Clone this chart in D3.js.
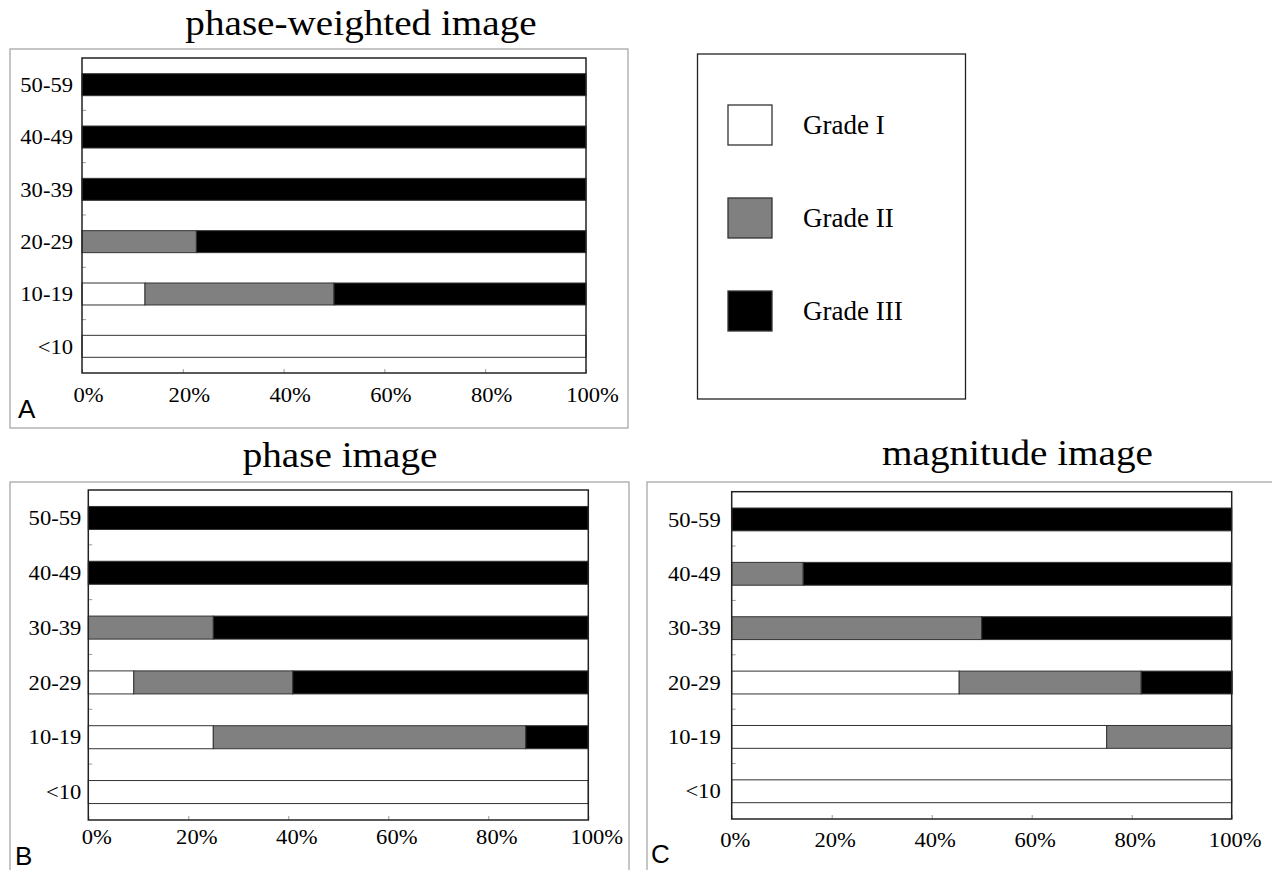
<!DOCTYPE html>
<html>
<head>
<meta charset="utf-8">
<script src="https://cdn.jsdelivr.net/npm/d3@7"></script>
<style>
	body { margin: 0; background: #fff; }
	text { font-family: 'Liberation Serif', 'Times New Roman', serif; fill: #000; }
</style>
</head>
<body>
<div id="fig"></div>
<script>
const ageGroups = ['50-59', '40-49', '30-39', '20-29', '10-19', '<10'];
const grades = ['Grade I', 'Grade II', 'Grade III'];
const gradeColors = ['#ffffff', '#808080', '#000000'];
const pctTicks = [0, 20, 40, 60, 80, 100];

// share (%) of each grade per age group
const pwGradeI = [0, 0, 0, 0, 12.5, 100];
const pwGradeII = [0, 0, 0, 22.7, 37.5, 0];
const pwGradeIII = [100, 100, 100, 77.3, 50, 0];

const phGradeI = [0, 0, 0, 9.1, 25, 100];
const phGradeII = [0, 0, 25, 31.8, 62.5, 0];
const phGradeIII = [100, 100, 75, 59.1, 12.5, 0];

const mgGradeI = [0, 0, 0, 45.5, 75, 100];
const mgGradeII = [0, 14.3, 50, 36.4, 25, 0];
const mgGradeIII = [100, 85.7, 50, 18.2, 0, 0];

// the source figure is stretched a bit horizontally
const sx = 1.13;

let panels = [
	{ title: 'phase-weighted image', letter: 'A', series: [pwGradeI, pwGradeII, pwGradeIII],
		plot: { l: 82, r: 586, t: 58, b: 373 }, frame: { x: 10, y: 49, w: 618, h: 379 },
		titlePos: [361, 35], letterPos: [18, 418], xlabOff: 29, xlabDx: 6, ylabGap: 9 },
	{ title: 'phase image', letter: 'B', series: [phGradeI, phGradeII, phGradeIII],
		plot: { l: 88.3, r: 588.3, t: 490, b: 820 }, frame: { x: 10, y: 482, w: 619, h: 420 },
		titlePos: [340, 467], letterPos: [15, 865], xlabOff: 24, xlabDx: 8, ylabGap: 7 },
	{ title: 'magnitude image', letter: 'C', series: [mgGradeI, mgGradeII, mgGradeIII],
		plot: { l: 731.7, r: 1231.7, t: 491.7, b: 819 }, frame: { x: 647, y: 482, w: 660, h: 420 },
		titlePos: [1017.5, 465], letterPos: [651, 863], xlabOff: 28, xlabDx: 3, ylabGap: 11 }
];

const svg = d3.select('#fig').append('svg').attr('width', 1272).attr('height', 870);

function drawPanel(p){
	let g = svg.append('g');

	g.append('rect')
		.attr('x', p.frame.x).attr('y', p.frame.y)
		.attr('width', p.frame.w).attr('height', p.frame.h)
		.attr('fill', 'none').attr('stroke', '#a0a0a0').attr('stroke-width', 1.2);

	g.append('text')
		.attr('transform', 'translate(' + p.titlePos[0] + ',' + p.titlePos[1] + ') scale(1.12,1)')
		.attr('text-anchor', 'middle')
		.style('font-size', '35px')
		.text(p.title);

	g.append('text')
		.attr('x', p.letterPos[0]).attr('y', p.letterPos[1])
		.style('font-family', "'Liberation Sans', Arial, sans-serif")
		.style('font-size', '26px')
		.text(p.letter);

	let x = d3.scaleLinear().domain([0, 100]).range([p.plot.l, p.plot.r]);
	let y = d3.scaleBand().domain(ageGroups).range([p.plot.t, p.plot.b]).paddingInner(0.58).paddingOuter(0.3);

	let rows = ageGroups.map((a, i) => {
		let r = { age: a };
		grades.forEach((gr, k) => { r[gr] = p.series[k][i]; });
		return r;
	});
	let stacked = d3.stack().keys(grades)(rows);

	g.append('rect')
		.attr('x', p.plot.l).attr('y', p.plot.t)
		.attr('width', p.plot.r - p.plot.l).attr('height', p.plot.b - p.plot.t)
		.attr('fill', '#fff');

	g.selectAll('g.layer')
		.data(stacked)
		.enter()
		.append('g')
		.attr('class', 'layer')
		.attr('fill', (d, i) => gradeColors[i])
		.selectAll('rect')
		.data((d) => d.filter((s) => s[1] - s[0] > 0))
		.enter()
		.append('rect')
		.attr('x', (d) => x(d[0]))
		.attr('y', (d) => y(d.data.age))
		.attr('width', (d) => x(d[1]) - x(d[0]))
		.attr('height', y.bandwidth())
		.attr('stroke', '#333')
		.attr('stroke-width', 1);

	// little ticks between the age groups
	let step = y.step();
	g.selectAll('line.ytick')
		.data(ageGroups.slice(1))
		.enter()
		.append('line')
		.attr('class', 'ytick')
		.attr('x1', p.plot.l).attr('x2', p.plot.l + 4)
		.attr('y1', (d, i) => p.plot.t + step * (i + 1))
		.attr('y2', (d, i) => p.plot.t + step * (i + 1))
		.attr('stroke', '#999');

	let xAxis = d3.axisBottom(x).tickValues(pctTicks).tickFormat((d) => d + '%').tickSize(-4).tickSizeOuter(0);
	let xg = g.append('g').attr('transform', 'translate(0,' + p.plot.b + ')').call(xAxis);
	xg.select('.domain').remove();
	xg.selectAll('line').attr('stroke', '#999');
	xg.selectAll('text')
		.attr('y', p.xlabOff).attr('dy', 0)
		.attr('x', p.xlabDx / sx)
		.attr('transform', 'scale(' + sx + ',1)')
		.attr('fill', '#000')
		.style('font-size', '20px').style('font-family', "'Liberation Serif', 'Times New Roman', serif");

	let yAxis = d3.axisLeft(y).tickSize(0);
	let yg = g.append('g').attr('transform', 'translate(' + p.plot.l + ',0)').call(yAxis);
	yg.select('.domain').remove();
	yg.selectAll('text')
		.attr('x', -p.ylabGap / sx)
		.attr('dy', '0.36em')
		.attr('transform', 'scale(' + sx + ',1)')
		.attr('fill', '#000')
		.style('font-size', '20px').style('font-family', "'Liberation Serif', 'Times New Roman', serif");

	g.append('rect')
		.attr('x', p.plot.l).attr('y', p.plot.t)
		.attr('width', p.plot.r - p.plot.l).attr('height', p.plot.b - p.plot.t)
		.attr('fill', 'none').attr('stroke', '#222').attr('stroke-width', 1.5);
}

panels.forEach(drawPanel);

// legend box
let leg = svg.append('g');
leg.append('rect')
	.attr('x', 697.5).attr('y', 54)
	.attr('width', 268).attr('height', 345)
	.attr('fill', 'none').attr('stroke', '#222').attr('stroke-width', 1.3);

let ly = d3.scalePoint().domain(grades).range([125, 311]);

leg.selectAll('rect.sw')
	.data(grades)
	.enter()
	.append('rect')
	.attr('class', 'sw')
	.attr('x', 728).attr('y', (d) => ly(d) - 20)
	.attr('width', 44).attr('height', 40)
	.attr('fill', (d, i) => gradeColors[i])
	.attr('stroke', '#333').attr('stroke-width', 1.3);

leg.selectAll('text.lab')
	.data(grades)
	.enter()
	.append('text')
	.attr('class', 'lab')
	.attr('x', 803).attr('y', (d) => ly(d))
	.attr('dy', '0.34em')
	.style('font-size', '27px')
	.text((d) => d);
</script>
</body>
</html>
